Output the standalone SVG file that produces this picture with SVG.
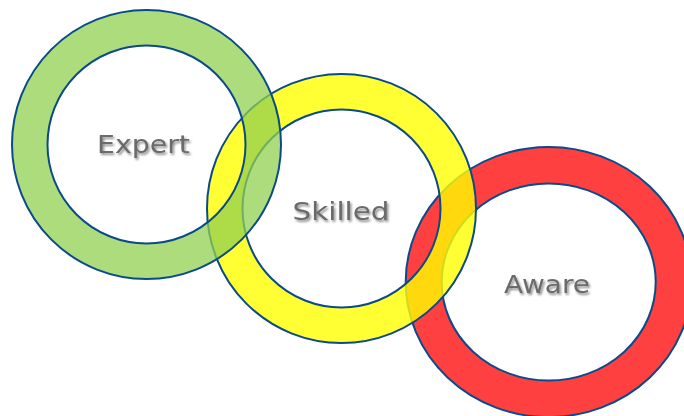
<svg xmlns="http://www.w3.org/2000/svg" width="684" height="416" viewBox="0 0 684 416">
  <defs>
    <filter id="shadow" x="-20%" y="-40%" width="140%" height="180%">
      <feDropShadow dx="1.5" dy="2" stdDeviation="1.2" flood-color="#000" flood-opacity="0.45"/>
    </filter>
  </defs>
  <style>
    .ring { stroke: #0b4a8a; stroke-width: 2; fill-rule: evenodd; }
    .label { font-family: "DejaVu Sans", "Liberation Sans", sans-serif; font-size: 25px; fill: #6a6a6a; text-anchor: middle; filter: url(#shadow); }
  </style>
  <rect width="684" height="416" fill="#ffffff"/>
  <g id="aware">
    <path class="ring" fill="#FF0000" fill-opacity="0.75" d="M405.7,282 a143,135 0 1,0 286,0 a143,135 0 1,0 -286,0 Z M441.7,282 a107,98.5 0 1,0 214,0 a107,98.5 0 1,0 -214,0 Z"/>
    <text class="label" x="547" y="293" textLength="86" lengthAdjust="spacingAndGlyphs">Aware</text>
  </g>
  <g id="skilled">
    <path class="ring" fill="#FFFF00" fill-opacity="0.8" d="M207,208.5 a134.5,134.5 0 1,0 269,0 a134.5,134.5 0 1,0 -269,0 Z M242.5,208.5 a99,99 0 1,0 198,0 a99,99 0 1,0 -198,0 Z"/>
    <text class="label" x="341" y="220" textLength="97" lengthAdjust="spacingAndGlyphs">Skilled</text>
  </g>
  <g id="expert">
    <path class="ring" fill="#92D050" fill-opacity="0.75" d="M12,144.5 a134.5,134.5 0 1,0 269,0 a134.5,134.5 0 1,0 -269,0 Z M47.5,144.5 a99,99 0 1,0 198,0 a99,99 0 1,0 -198,0 Z"/>
    <text class="label" x="143.5" y="153" textLength="93" lengthAdjust="spacingAndGlyphs">Expert</text>
  </g>
  <g id="connectors"></g>
</svg>
